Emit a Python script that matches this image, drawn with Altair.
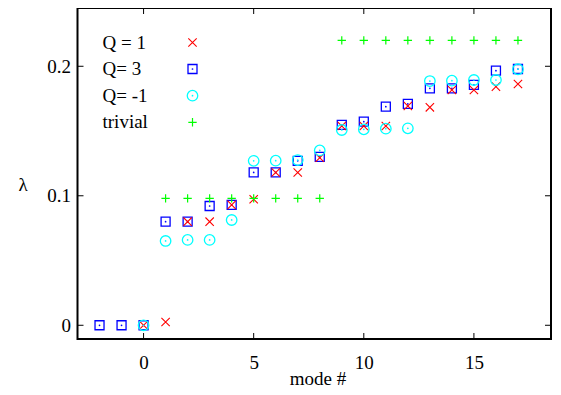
import altair as alt
import pandas as pd

# ---- data ----
q1_modes = list(range(0, 18))
q1_vals = [0.0, 0.0025, 0.080, 0.080, 0.093, 0.0973, 0.118, 0.118, 0.1294,
           0.1539, 0.1539, 0.1539, 0.1693, 0.1683, 0.1817, 0.1817, 0.1843, 0.1863]

q3_modes = list(range(-2, 18))
q3_vals = [0.0, 0.0, 0.0, 0.080, 0.080, 0.0921, 0.093, 0.118, 0.118, 0.127, 0.130,
           0.1547, 0.1572, 0.1688, 0.1709, 0.183, 0.183, 0.1856, 0.1966, 0.1979]

qm1_modes = list(range(0, 18))
qm1_vals = [0.0, 0.0651, 0.0659, 0.0659, 0.0813, 0.127, 0.1271, 0.1276, 0.1350,
            0.1508, 0.1513, 0.1518, 0.1521, 0.1886, 0.1889, 0.1894, 0.1894, 0.1977]

triv_modes = list(range(1, 18))
triv_vals = [0.098] * 8 + [0.22] * 9

x_ticks = [0, 5, 10, 15]
y_ticks = [0, 0.1, 0.2]

legend_labels = ["Q = 1", "Q= 3", "Q= -1", "trivial"]

# ---- layout / style ----
W, H = 473.5, 331
XDOM = [-3, 18.5]
YDOM = [-0.0106, 0.245]
FONT = "Liberation Serif"
RED, BLUE, CYAN, GREEN = "#ff0000", "#0000ff", "#00ffff", "#00ff00"
XPATH = "M-1,-1L1,1M-1,1L1,-1"
PPATH = "M-1,0L1,0M0,-1L0,1"

xs = alt.Scale(domain=XDOM, nice=False, zero=False)
ys = alt.Scale(domain=YDOM, nice=False, zero=False)

def df(m, v):
    return pd.DataFrame({"mode": m, "lam": v})

d1, d3, dm1, dt = df(q1_modes, q1_vals), df(q3_modes, q3_vals), df(qm1_modes, qm1_vals), df(triv_modes, triv_vals)

X = alt.X("mode:Q", scale=xs,
          axis=alt.Axis(values=x_ticks, ticks=False, domain=False, grid=False, format="~g",
                        labelFont=FONT, labelFontSize=19, labelColor="black",
                        labelPadding=14, title="mode #", titleFont=FONT,
                        titleFontSize=19, titleFontWeight="normal", titleColor="black",
                        titleBaseline="alphabetic", titleY=45, titleX=240))
Y = alt.Y("lam:Q", scale=ys,
          axis=alt.Axis(values=y_ticks, ticks=False, domain=False, grid=False, format="~g",
                        labelFont=FONT, labelFontSize=19, labelColor="black",
                        labelPadding=7, title="λ", titleFont=FONT, titleFontSize=19,
                        titleFontWeight="normal", titleColor="black", titleAngle=0,
                        titleAlign="center", titleBaseline="middle",
                        titleX=-55, titleY=176))

def pts(d, shape, color, size, filled=False, sw=1.1):
    return alt.Chart(d).mark_point(shape=shape, color=color, size=size, filled=filled,
                                   strokeWidth=sw, opacity=1).encode(
        x=alt.X("mode:Q", scale=xs), y=alt.Y("lam:Q", scale=ys))

base = alt.Chart(d1).mark_point(opacity=0).encode(x=X, y=Y)

layers = [base,
          pts(d3, "square", BLUE, 81, sw=1.3),
          pts(d3, "circle", BLUE, 3, filled=True),
          pts(d1, XPATH, RED, 70),
          pts(dm1, "circle", CYAN, 110, sw=1.3),
          pts(dm1, "circle", CYAN, 3, filled=True),
          pts(dt, PPATH, GREEN, 70, sw=1.2)]

# inward ticks on all four sides
tx = pd.DataFrame({"mode": x_ticks})
ty = pd.DataFrame({"lam": y_ticks})
tl = 6
layers += [
    alt.Chart(tx).mark_rule(color="black", strokeWidth=1).encode(
        x=alt.X("mode:Q", scale=xs), y=alt.value(H), y2=alt.value(H - tl)),
    alt.Chart(tx).mark_rule(color="black", strokeWidth=1).encode(
        x=alt.X("mode:Q", scale=xs), y=alt.value(0), y2=alt.value(tl)),
    alt.Chart(ty).mark_rule(color="black", strokeWidth=1).encode(
        y=alt.Y("lam:Q", scale=ys), x=alt.value(0), x2=alt.value(tl)),
    alt.Chart(ty).mark_rule(color="black", strokeWidth=1).encode(
        y=alt.Y("lam:Q", scale=ys), x=alt.value(W), x2=alt.value(W - tl)),
]

# legend inside the plot (labels left, symbols right)
leg_y = [34.5, 61, 87.7, 114.3]
lx_text, lx_sym = 25, 115
one = pd.DataFrame({"a": [0]})
for lab, yy in zip(legend_labels, leg_y):
    layers.append(alt.Chart(one).mark_text(text=lab, font=FONT, fontSize=19, align="left",
                                           baseline="middle", color="black").encode(
        x=alt.value(lx_text), y=alt.value(yy)))
sym_specs = [(XPATH, RED, 70, 1.1), ("square", BLUE, 81, 1.3), ("circle", CYAN, 110, 1.3), (PPATH, GREEN, 70, 1.2)]
for (shape, col, sz, sw), yy in zip(sym_specs, leg_y):
    layers.append(alt.Chart(one).mark_point(shape=shape, color=col, size=sz, strokeWidth=sw,
                                            opacity=1).encode(x=alt.value(lx_sym), y=alt.value(yy)))
    if shape in ("square", "circle"):
        layers.append(alt.Chart(one).mark_point(shape="circle", color=col, size=3, filled=True,
                                                opacity=1).encode(x=alt.value(lx_sym), y=alt.value(yy)))

chart = alt.layer(*layers).properties(
    width=W, height=H,
    autosize=alt.AutoSizeParams(type="none"),
    padding={"left": 69.5, "top": 0, "right": 2, "bottom": 48},
    background="white",
).configure_view(stroke="black", strokeWidth=2)

chart.save("out.html", embed_options={"renderer": "svg", "actions": False})
